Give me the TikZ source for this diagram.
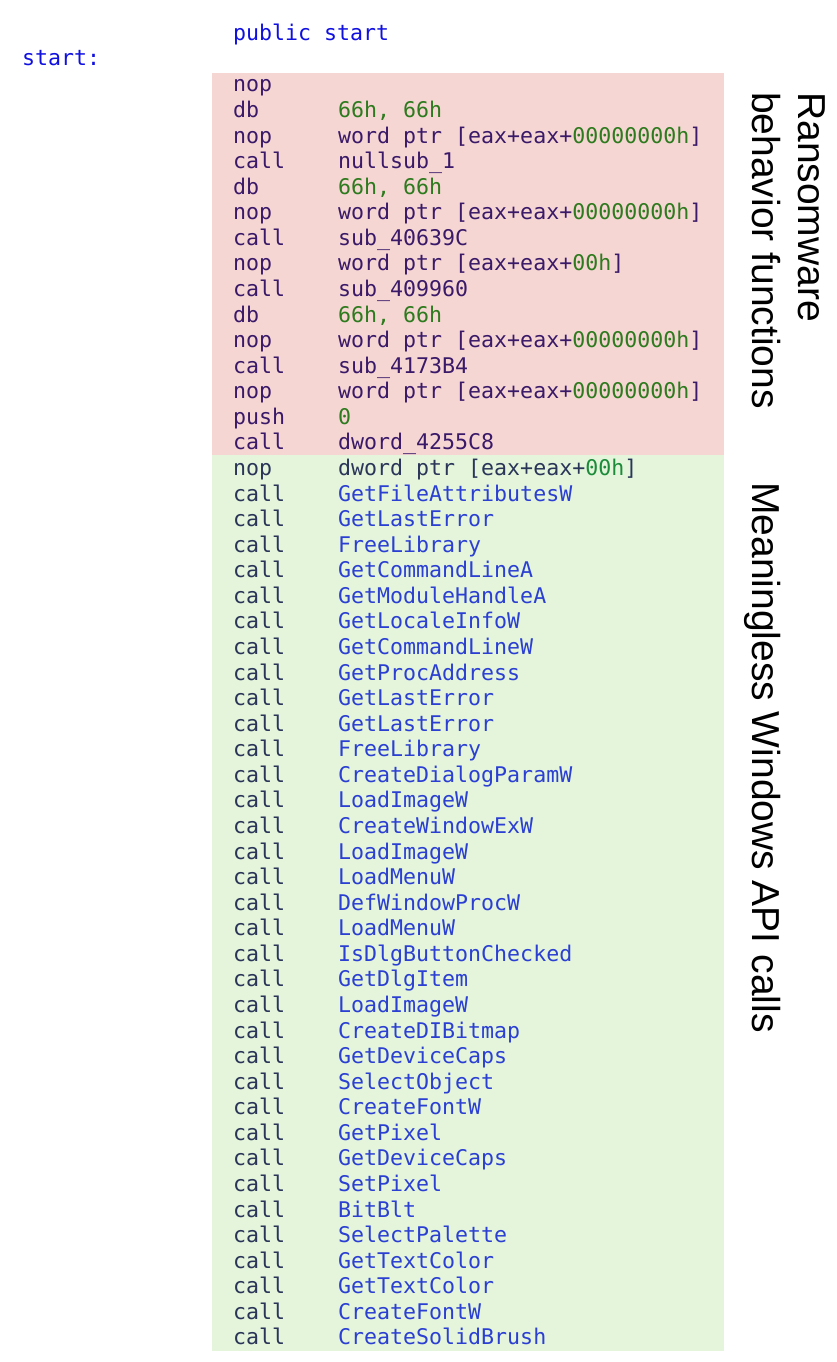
\documentclass[tikz,border=0pt]{standalone}
\usepackage{fontspec}
\setmonofont{DejaVu Sans Mono}
\newfontfamily\labfont{Liberation Sans}
\definecolor{pinkbg}{HTML}{F6D6D3}
\definecolor{greenbg}{HTML}{E4F5DC}
\definecolor{txtA}{HTML}{3A1A68}
\definecolor{txtB}{HTML}{2A3558}
\definecolor{numA}{HTML}{2E7A1E}
\definecolor{numB}{HTML}{1C8C3A}
\definecolor{apiblue}{HTML}{2B3FD2}
\definecolor{pubblue}{HTML}{1010E0}
\newcommand\gA[1]{\textcolor{numA}{#1}}
\newcommand\gB[1]{\textcolor{numB}{#1}}
\newcommand\api[1]{\textcolor{apiblue}{#1}}
\begin{document}
\begin{tikzpicture}[x=1pt,y=-1pt,
  code/.style={inner sep=0pt,anchor=base west,font=\ttfamily\fontsize{21.6}{24}\selectfont},
  lab/.style={inner sep=0pt,rotate=-90,anchor=north west,font=\labfont\fontsize{39}{45}\selectfont}]
\useasboundingbox (0,0) rectangle (836,1362);
\fill[pinkbg] (212,73) rectangle (724,455);
\fill[greenbg] (212,455) rectangle (724,1351);
\node[code,text=pubblue] (pub) at (233,41) {public start};
\node[code,text=pubblue] (st) at (22,66) {start:};
\foreach \m/\o [count=\i] in {nop/{},db/{\gA{66h, 66h}},nop/{word ptr [eax+eax+\gA{00000000h}]},call/{nullsub\_1},db/{\gA{66h, 66h}},nop/{word ptr [eax+eax+\gA{00000000h}]},call/{sub\_40639C},nop/{word ptr [eax+eax+\gA{00h}]},call/{sub\_409960},db/{\gA{66h, 66h}},nop/{word ptr [eax+eax+\gA{00000000h}]},call/{sub\_4173B4},nop/{word ptr [eax+eax+\gA{00000000h}]},push/{\gA{0}},call/{dword\_4255C8}}{
  \node[code,text=txtA] (m\i) at (233,{92+(\i-1)*25.57}) {\m};
  \node[code,text=txtA] (o\i) at (338,{92+(\i-1)*25.57}) {\o};
}
\foreach \m/\o [count=\i from 16] in {nop/{dword ptr [eax+eax+\gB{00h}]},call/{\api{GetFileAttributesW}},call/{\api{GetLastError}},call/{\api{FreeLibrary}},call/{\api{GetCommandLineA}},call/{\api{GetModuleHandleA}},call/{\api{GetLocaleInfoW}},call/{\api{GetCommandLineW}},call/{\api{GetProcAddress}},call/{\api{GetLastError}},call/{\api{GetLastError}},call/{\api{FreeLibrary}},call/{\api{CreateDialogParamW}},call/{\api{LoadImageW}},call/{\api{CreateWindowExW}},call/{\api{LoadImageW}},call/{\api{LoadMenuW}},call/{\api{DefWindowProcW}},call/{\api{LoadMenuW}},call/{\api{IsDlgButtonChecked}},call/{\api{GetDlgItem}},call/{\api{LoadImageW}},call/{\api{CreateDIBitmap}},call/{\api{GetDeviceCaps}},call/{\api{SelectObject}},call/{\api{CreateFontW}},call/{\api{GetPixel}},call/{\api{GetDeviceCaps}},call/{\api{SetPixel}},call/{\api{BitBlt}},call/{\api{SelectPalette}},call/{\api{GetTextColor}},call/{\api{GetTextColor}},call/{\api{CreateFontW}},call/{\api{CreateSolidBrush}}}{
  \node[code,text=txtB] (m\i) at (233,{92+(\i-1)*25.57}) {\m};
  \node[code,text=txtB] (o\i) at (338,{92+(\i-1)*25.57}) {\o};
}
\node[lab] (l1) at (826,92) {Ransomware};
\node[lab] (l2) at (781,92) {behavior functions};
\node[lab] (l3) at (781,482) {Meaningless Windows API calls};
\end{tikzpicture}
\end{document}
